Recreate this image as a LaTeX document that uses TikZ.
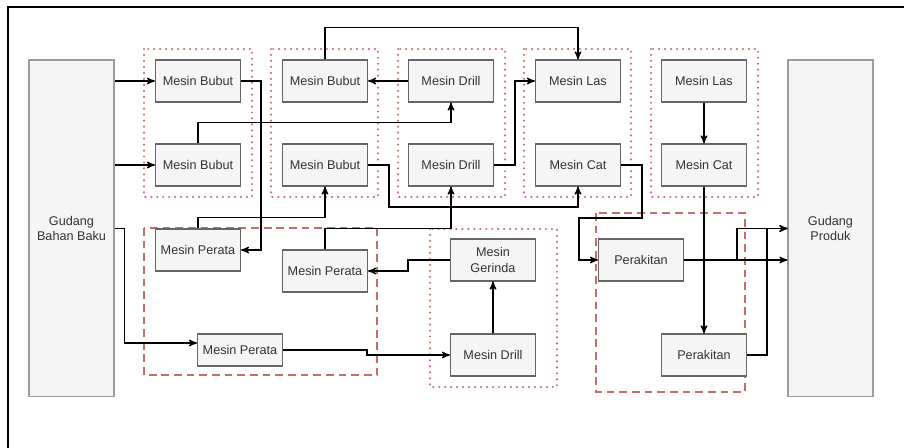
\documentclass[tikz,border=0pt]{standalone}
\usepackage{fontspec}
\setmainfont{Liberation Sans}
\usepackage{xcolor}
\usepackage{tikz}
\usetikzlibrary{shapes,arrows}
\definecolor{kotakisi}{RGB}{245,245,245}
\definecolor{kotakgaris}{RGB}{102,102,102}
\definecolor{teks}{RGB}{51,51,51}
\definecolor{merah}{RGB}{184,84,80}
\tikzstyle{alur} = [draw, -stealth', line width=0.7pt]
\tikzstyle{mesin} = [draw=kotakgaris, fill=kotakisi, line width=0.6pt, text=teks,
  minimum width=1.7cm, minimum height=0.84cm, inner sep=0pt, align=center,
  font=\fontsize{7.2}{8.8}\selectfont]
\tikzstyle{gudang} = [mesin, draw=kotakgaris!65, minimum height=6.74cm]
\tikzstyle{grupdot} = [draw=merah!80, line width=1.4pt, dash pattern=on 0pt off 3.4pt, line cap=round]
\tikzstyle{grupdash} = [draw=merah!85, line width=1.1pt, dash pattern=on 4.4pt off 2.8pt]

\begin{document}
\begin{tikzpicture}[x=0.02cm, y=-0.02cm]
\useasboundingbox (0,0) rectangle (904,448);
\draw[line width=0.8pt] (8,448) -- (8,7) -- (904,7);
%
\draw[grupdot] (144,49) rectangle (252,197);
\draw[grupdot] (271,49) rectangle (378,197);
\draw[grupdot] (398,49) rectangle (505,197);
\draw[grupdot] (524,49) rectangle (631,197);
\draw[grupdot] (651,49) rectangle (758,197);
\draw[grupdot] (430,229) rectangle (557,387);
\draw[grupdash] (144,228) rectangle (377,375);
\draw[grupdash] (596,213) rectangle (745,392);
%
\node[gudang] (gbb) at (71.5,228.5) {Gudang\\Bahan Baku};
\node[gudang] (gp) at (830.5,228.5) {Gudang\\Produk};
%
\node[mesin] (bubut1) at (198,81) {Mesin Bubut};
\node[mesin] (bubut2) at (198,165) {Mesin Bubut};
\node[mesin] (bubut3) at (325,81) {Mesin Bubut};
\node[mesin] (bubut4) at (325,165) {Mesin Bubut};
\node[mesin] (drill1) at (451,81) {Mesin Drill};
\node[mesin] (drill2) at (451,165) {Mesin Drill};
\node[mesin] (las1) at (578,81) {Mesin Las};
\node[mesin] (cat1) at (578,165) {Mesin Cat};
\node[mesin] (las2) at (704,81) {Mesin Las};
\node[mesin] (cat2) at (704,165) {Mesin Cat};
%
\node[mesin] (perata1) at (198,250) {Mesin Perata};
\node[mesin] (perata2) at (325,271) {Mesin Perata};
\node[mesin, minimum height=0.64cm] (perata3) at (240,350) {Mesin Perata};
\node[mesin] (gerinda) at (493,260) {Mesin\\Gerinda};
\node[mesin] (drill3) at (493,355) {Mesin Drill};
\node[mesin] (rakit1) at (641,260) {Perakitan};
\node[mesin] (rakit2) at (704,355) {Perakitan};
%
\path[alur] (gbb.east |- bubut1) -- (bubut1.west);
\path[alur] (gbb.east |- bubut2) -- (bubut2.west);
\path[alur] (gbb.east) -- ++(10,0) |- ([yshift=0.14cm]perata3.west);
\path[alur] (bubut1.east) -- ++(20,0) |- (perata1.east);
\path[alur] (bubut2.north) -- ++(0,-21) -| (drill1.south);
\path[alur] (bubut3.north) -- ++(0,-32) -| (las1.north);
\path[alur] (drill1.west) -- (bubut3.east);
\path[alur] (drill2.east) -- ++(21,0) |- (las1.west);
\path[alur] (bubut4.east) -- ++(21,0) -- ++(0,42) -| (cat1.south);
\path[alur] (perata1.north) -- ++(0,-11) -| (bubut4.south);
\path[alur] (perata2.north) -- ++(0,-21) -| (drill2.south);
\path[alur] (cat1.east) -- ++(21,0) -- ++(0,53) -- ++(-63,0) |- (rakit1.west);
\path[alur] (las2) -- (cat2);
\path[alur] (cat2) -- (rakit2);
\path[alur] (perata3.east) -- ++(84,0) |- (drill3.west);
\path[alur] (drill3) -- (gerinda);
\path[alur] (gerinda.west) -- ++(-42,0) |- (perata2.east);
\path[alur] (rakit1.east) -- (rakit1.east -| gp.west);
\path[alur] (rakit1.east) -- ++(53,0) |- (gp.west);
\path[alur] (rakit2.east) -- ++(20,0) |- (gp.west);
\end{tikzpicture}
\end{document}
